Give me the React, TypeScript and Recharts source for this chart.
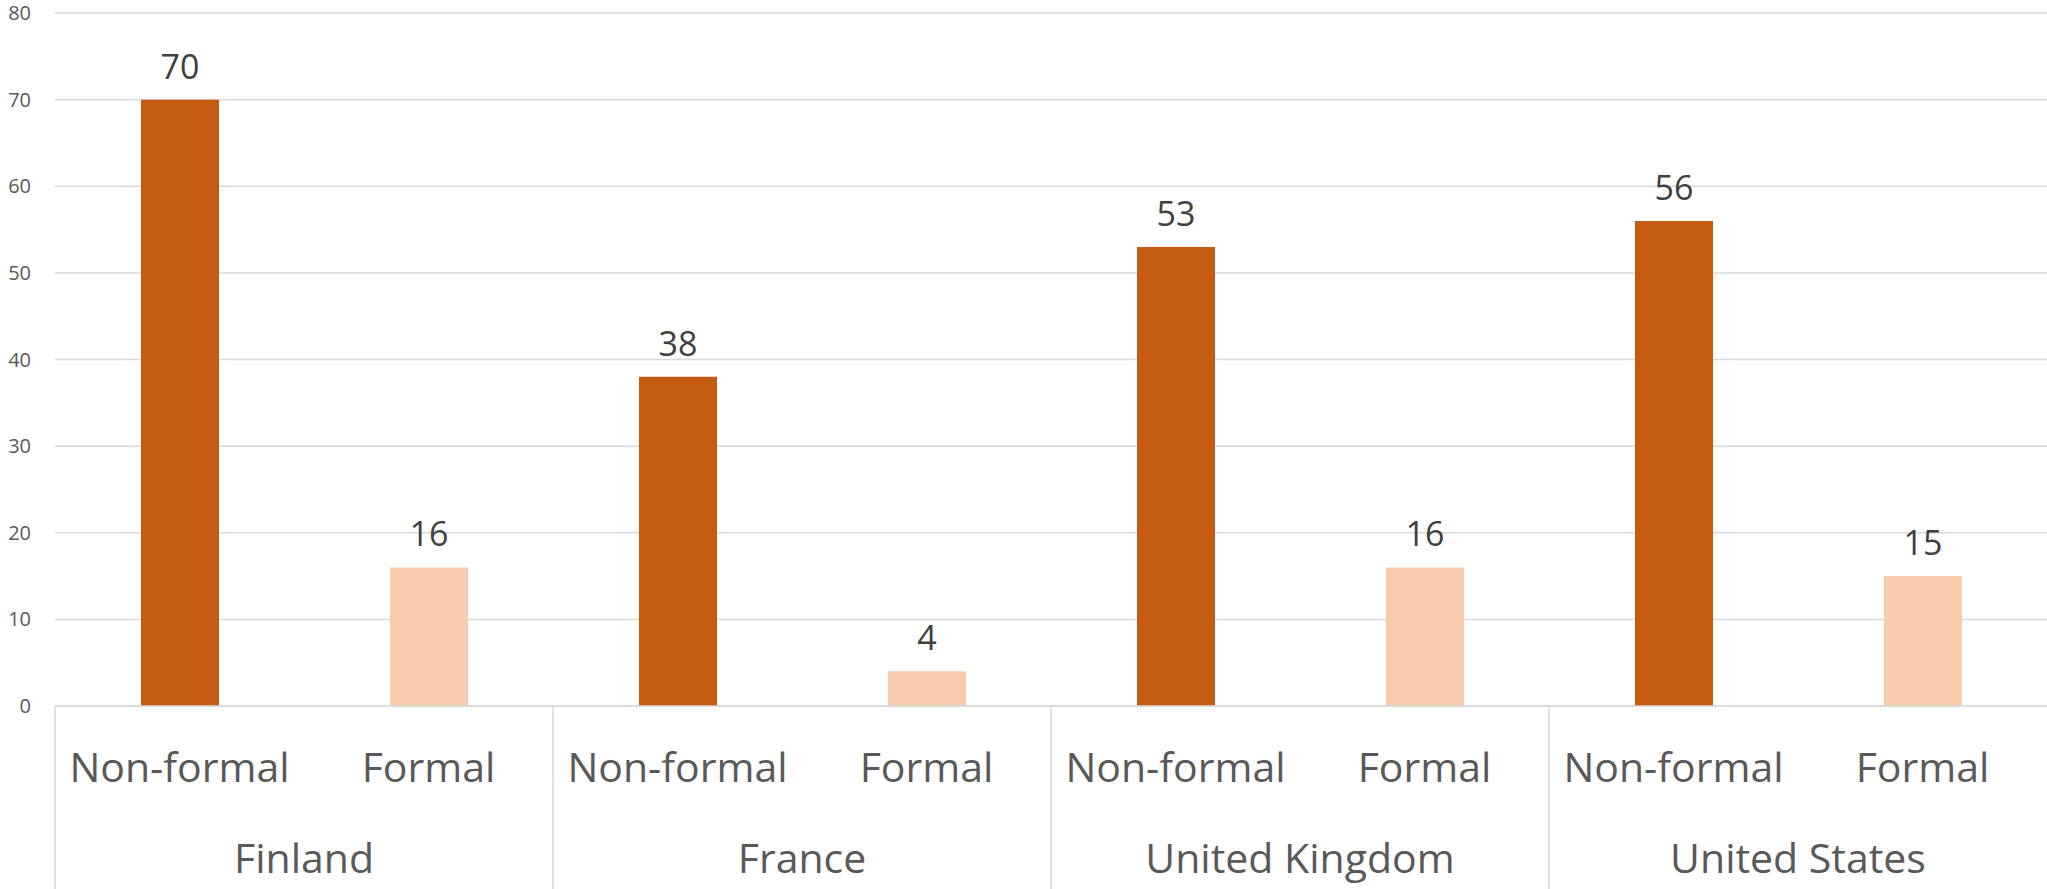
import { Bar, BarChart, CartesianGrid, Cell, LabelList, XAxis, YAxis } from "recharts"

const countries = ["Finland", "France", "United Kingdom", "United States"]
const learningTypes = ["Non-formal", "Formal"]
const nonFormalValues = [70, 38, 53, 56]
const formalValues = [16, 4, 16, 15]
const yTicks = [0, 10, 20, 30, 40, 50, 60, 70, 80]

const typeColors: Record<string, string> = {
  "Non-formal": "#C55A11",
  Formal: "#F8CBAD",
}

type Row = { key: string; country: string; type: string; value: number }

const rows: Row[] = countries.flatMap((country, i) => [
  { key: `${country}-nf`, country, type: learningTypes[0], value: nonFormalValues[i] },
  { key: `${country}-f`, country, type: learningTypes[1], value: formalValues[i] },
])

const WIDTH = 2047
const HEIGHT = 889
const Y_AXIS_WIDTH = 55
const SUB_AXIS_HEIGHT = 110
const GROUP_AXIS_HEIGHT = 73
const FONT = "'Open Sans', sans-serif"
const GRID = "#D9D9D9"

// inner tier: learning type, plus the group dividers that run through both tiers
function TypeTick(props: any) {
  const { x, y, payload, index } = props
  const half = payload?.offset ?? (WIDTH - Y_AXIS_WIDTH) / rows.length / 2
  const row = rows[index]
  return (
    <g>
      {index % 2 === 0 && (
        <line
          x1={x - half}
          x2={x - half}
          y1={y}
          y2={y + SUB_AXIS_HEIGHT + GROUP_AXIS_HEIGHT}
          stroke={GRID}
          strokeWidth={1.5}
        />
      )}
      <text x={x} y={y} dy={76} textAnchor="middle" fill="#595959" fontSize={41} fontFamily={FONT}>
        {row ? row.type : payload.value}
      </text>
    </g>
  )
}

function CountryTick(props: any) {
  const { x, y, payload } = props
  return (
    <text x={x} y={y} dy={57} textAnchor="middle" fill="#595959" fontSize={41} fontFamily={FONT}>
      {payload.value}
    </text>
  )
}

export default function App() {
  return (
    <div style={{ position: "absolute", left: 0, top: 0, background: "#fff" }}>
      <BarChart width={WIDTH} height={HEIGHT} data={rows} margin={{ top: 13, right: 0, bottom: 0, left: 0 }}>
        <CartesianGrid vertical={false} stroke={GRID} strokeWidth={1.5} />
        <XAxis
          xAxisId={0}
          dataKey="key"
          height={SUB_AXIS_HEIGHT}
          tickSize={0}
          tickMargin={0}
          axisLine={{ stroke: GRID, strokeWidth: 1.5 }}
          tickLine={false}
          interval={0}
          tick={<TypeTick />}
        />
        <XAxis
          xAxisId={1}
          dataKey="country"
          allowDuplicatedCategory={false}
          height={GROUP_AXIS_HEIGHT}
          tickSize={0}
          tickMargin={0}
          axisLine={false}
          tickLine={false}
          interval={0}
          tick={<CountryTick />}
        />
        <YAxis
          width={Y_AXIS_WIDTH}
          domain={[0, 80]}
          ticks={yTicks}
          axisLine={false}
          tickLine={false}
          tickSize={0}
          tickMargin={24}
          tick={{ fill: "#595959", fontSize: 20, fontFamily: FONT }}
        />
        <Bar xAxisId={0} dataKey="value" barSize={78} isAnimationActive={false}>
          {rows.map((r) => (
            <Cell key={r.key} fill={typeColors[r.type]} />
          ))}
          <LabelList dataKey="value" position="top" offset={21} fill="#404040" fontSize={34} fontFamily={FONT} />
        </Bar>
      </BarChart>
    </div>
  )
}
